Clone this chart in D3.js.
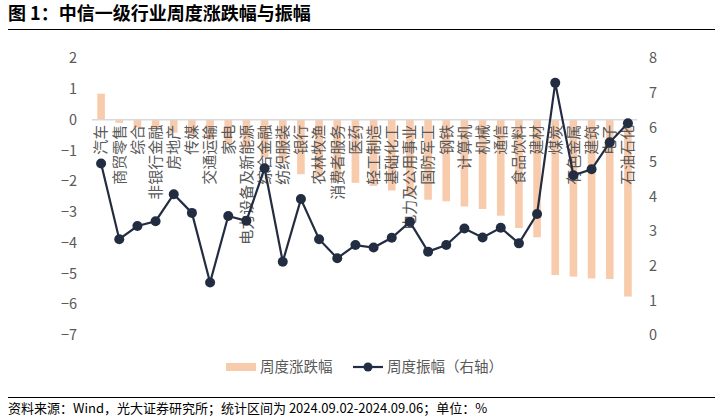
<!DOCTYPE html>
<html><head><meta charset="utf-8">
<script src="https://cdn.jsdelivr.net/npm/d3@7"></script>
<style>
body{margin:0;background:#fff;}
svg{font-family:"Noto Sans CJK SC","Noto Sans",sans-serif;}
</style></head>
<body><svg id="c" width="722" height="416"></svg>
<script>
const categories = ["汽车","商贸零售","综合","非银行金融","房地产","传媒","交通运输","家电","电力设备及新能源","综合金融","纺织服装","银行","农林牧渔","消费者服务","医药","轻工制造","基础化工","电力及公用事业","国防军工","钢铁","计算机","机械","通信","食品饮料","建材","煤炭","有色金属","建筑","电子","石油石化"];
const weeklyChange = [0.85,-0.1,-0.25,-0.32,-0.42,-0.52,-0.65,-0.78,-0.95,-1.22,-1.38,-1.77,-1.86,-1.96,-2.05,-2.15,-2.3,-2.45,-2.6,-2.65,-2.82,-2.9,-3.12,-3.52,-3.82,-5.05,-5.1,-5.16,-5.18,-5.75];
const weeklyAmplitude = [4.96,2.77,3.15,3.29,4.07,3.53,1.52,3.44,3.30,4.82,2.12,3.93,2.77,2.22,2.60,2.53,2.81,3.27,2.41,2.60,3.08,2.82,3.10,2.65,3.50,7.29,4.62,4.79,5.57,6.12];
const leftTicks = [2,1,0,-1,-2,-3,-4,-5,-6,-7];
const rightTicks = [8,7,6,5,4,3,2,1,0];

const svg = d3.select("#c");
const x = d3.scaleBand().domain(categories).range([92,637]).paddingInner(0.58).paddingOuter(0.29);
const yL = d3.scaleLinear().domain([-7,2]).range([335,58.3]);
const yR = d3.scaleLinear().domain([0,8]).range([335,58.3]);
const grey = "#595959";

// title
svg.append("text").attr("x",8).attr("y",20).attr("font-size",18).attr("font-weight","bold").attr("fill","#000").text("图 1：中信一级行业周度涨跌幅与振幅");
svg.append("line").attr("x1",8).attr("x2",715).attr("y1",29.5).attr("y2",29.5).attr("stroke","#000").attr("stroke-width",1.2);

// left axis
const gL = svg.append("g").attr("transform","translate(80,0)")
  .call(d3.axisLeft(yL).tickValues(leftTicks).tickSize(0).tickPadding(3).tickFormat(d3.format("d")));
gL.select(".domain").remove();
gL.selectAll("text").attr("font-size",14.5).attr("fill",grey).attr("font-family","Noto Sans CJK SC");

// right axis
const gR = svg.append("g").attr("transform","translate(646,0)")
  .call(d3.axisRight(yR).tickValues(rightTicks).tickSize(0).tickPadding(3).tickFormat(d3.format("d")));
gR.select(".domain").remove();
gR.selectAll("text").attr("font-size",14.5).attr("fill",grey).attr("font-family","Noto Sans CJK SC");

// bars
svg.append("g").selectAll("rect").data(categories).join("rect")
  .attr("x",d=>x(d)).attr("width",x.bandwidth())
  .attr("y",(d,i)=>yL(Math.max(0,weeklyChange[i])))
  .attr("height",(d,i)=>Math.abs(yL(weeklyChange[i])-yL(0)))
  .attr("fill","#F8CBAD");

// zero line
svg.append("line").attr("x1",92).attr("x2",637).attr("y1",yL(0)).attr("y2",yL(0)).attr("stroke","#d9d9d9").attr("stroke-width",1.5);

// category labels (rotated, reading bottom to top)
svg.append("g").selectAll("text").data(categories).join("text")
  .attr("transform",d=>`translate(${x(d)+x.bandwidth()/2},${yL(0)+5}) rotate(-90)`)
  .attr("text-anchor","end").attr("dy","0.35em").attr("font-size",15).attr("fill",grey).text(d=>d);

// line
const cx = d=>x(d)+x.bandwidth()/2;
svg.append("path").datum(categories)
  .attr("d",d3.line().x(d=>cx(d)).y((d,i)=>yR(weeklyAmplitude[i])))
  .attr("fill","none").attr("stroke","#232D42").attr("stroke-width",2.2);
svg.append("g").selectAll("circle").data(categories).join("circle")
  .attr("cx",cx).attr("cy",(d,i)=>yR(weeklyAmplitude[i])).attr("r",5).attr("fill","#232D42");

// legend
const ly = 367;
const lg = svg.append("g");
lg.append("rect").attr("x",226).attr("y",ly-4).attr("width",30).attr("height",8).attr("fill","#F8CBAD");
lg.append("text").attr("x",260).attr("y",ly).attr("dy","0.35em").attr("font-size",14.5).attr("fill",grey).text("周度涨跌幅");
lg.append("line").attr("x1",353).attr("x2",383).attr("y1",ly).attr("y2",ly).attr("stroke","#232D42").attr("stroke-width",2.2);
lg.append("circle").attr("cx",368).attr("cy",ly).attr("r",4.5).attr("fill","#232D42");
lg.append("text").attr("x",387).attr("y",ly).attr("dy","0.35em").attr("font-size",14.5).attr("fill",grey).text("周度振幅（右轴）");

// footer
svg.append("line").attr("x1",8).attr("x2",715).attr("y1",397.5).attr("y2",397.5).attr("stroke","#000").attr("stroke-width",1);
svg.append("text").attr("x",8).attr("y",412.5).attr("font-size",13).attr("fill","#000").text("资料来源：Wind，光大证券研究所；统计区间为 2024.09.02-2024.09.06；单位：%");
</script></body></html>
